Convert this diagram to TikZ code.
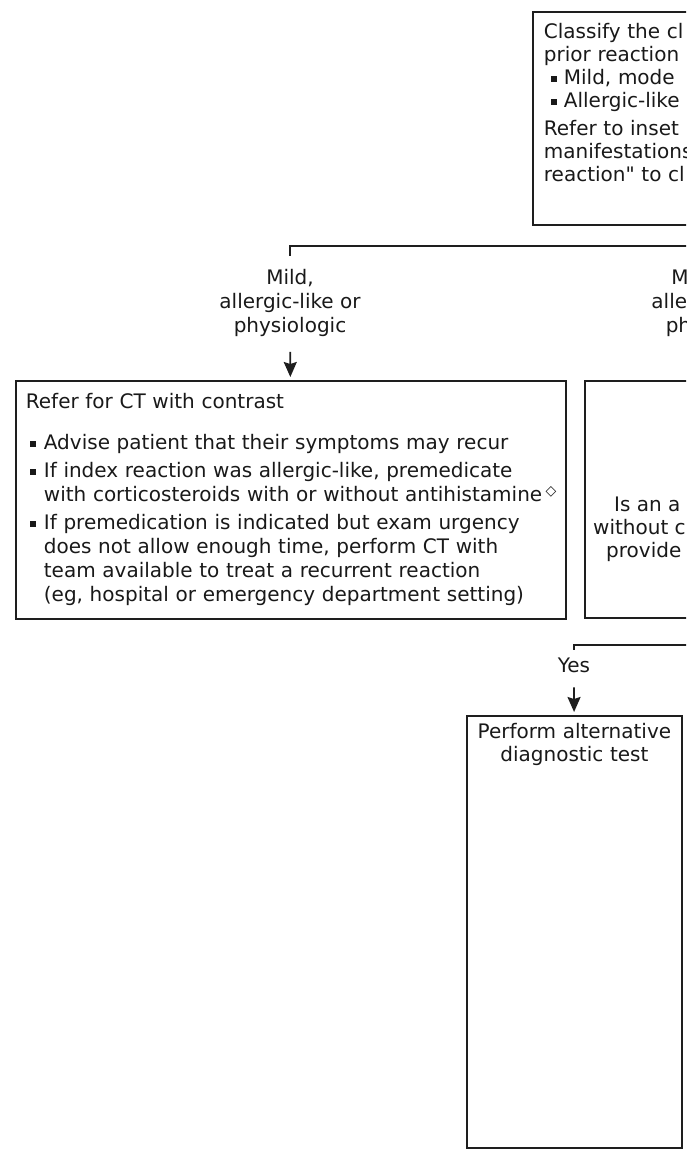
\documentclass[tikz,border=0pt]{standalone}
\usepackage{fontspec}
\setmainfont{DejaVu Sans}[Ligatures=TeXOff]
\usetikzlibrary{positioning,arrows.meta,calc}
\definecolor{linegray}{RGB}{30,30,30}
\definecolor{inkgray}{RGB}{25,25,25}
\newcommand{\itm}{\makebox[18pt][l]{\hspace{4pt}\raisebox{2.5pt}{\rule{6pt}{6pt}}}}
\newcommand{\itmtop}{\makebox[20pt][l]{\hspace{7pt}\raisebox{2.5pt}{\rule{6pt}{6pt}}}}
\newcommand{\cnt}{\hspace*{18pt}}
\tikzset{
  box/.style  = {rectangle, draw=linegray, line width=1.8pt, anchor=north west,
                 text=inkgray, font=\fontsize{20}{24}\selectfont},
  lab/.style  = {anchor=north, align=center, inner xsep=2pt, inner ysep=13pt,
                 text=inkgray, font=\fontsize{20}{24}\selectfont},
  line/.style = {draw=linegray, line width=1.8pt},
  arr/.style  = {line, -{Stealth[length=15pt,width=13pt,inset=2pt]},
                 shorten <=2pt, shorten >=3pt}
}
\begin{document}
\begin{tikzpicture}[x=1pt,y=1pt]
  \useasboundingbox (0,0) rectangle (686,-1151);
  \clip (0,0) rectangle (686,-1151);
  % classification box, cut by the right edge
  \node[box, text width=400pt, inner xsep=11pt, inner ysep=11pt, align=left,
        font=\fontsize{20}{23}\selectfont] (classify) at (532,-11)
    {Classify the cl\\ prior reaction\\ \itmtop Mild, mode\\ \itmtop Allergic-like\\[5pt]
     Refer to inset\\ manifestations\\ reaction" to cl\rule[-33pt]{0pt}{0pt}};
  % branch labels
  \node[lab] (mild) at (290,-256) {Mild,\\allergic-like or\\physiologic};
  \node[lab] (moderate) at (722,-256) {Moderate,\\allergic-like or\\physiologic};
  % left branch
  \node[box, text width=530pt, inner xsep=10pt, minimum height=238pt, align=left] (refer) at (15,-380)
    {Refer for CT with contrast\\[17pt]
     \itm Advise patient that their symptoms may recur\\[4pt]
     \itm If index reaction was allergic-like, premedicate\\
     \mbox{\cnt with corticosteroids with or without antihistamine\,\raisebox{6pt}{\fontsize{14}{14}\selectfont ◇}}\\[4pt]
     \itm If premedication is indicated but exam urgency\\
     \cnt does not allow enough time, perform CT with\\
     \cnt team available to treat a recurrent reaction\\
     \cnt (eg, hospital or emergency department setting)};
  % right branch
  \node[box, minimum width=268pt, minimum height=237pt] (question) at (584,-380) {};
  \node[anchor=north west, inner sep=0pt, align=left, text=inkgray,
        font=\fontsize{20}{23}\selectfont] (questiontext) at (593,-497)
    {\hspace*{21pt}Is an a\\ without c\\ \hspace*{13pt}provide};
  \node[lab, inner ysep=8pt] (yes) at (574,-650) {Yes};
  \node[box, text width=205pt, inner xsep=5pt, inner ysep=7pt, align=center,
        font=\fontsize{20}{23}\selectfont] (alternative) at (466,-715)
    {Perform alternative\\ diagnostic test\rule[-380pt]{0pt}{0pt}};
  % connectors
  \draw[line] (classify.south) -- ++(0,-20) -| (mild.north);
  \draw[line] (classify.south) -- ++(0,-20) -| (moderate.north);
  \draw[arr] (mild) -- (refer);
  \draw[arr] (moderate) -- (question);
  \draw[line] (question.south) -- ++(0,-26) -| (yes.north);
  \draw[arr, shorten <=6pt] (yes) -- (alternative);
\end{tikzpicture}
\end{document}
